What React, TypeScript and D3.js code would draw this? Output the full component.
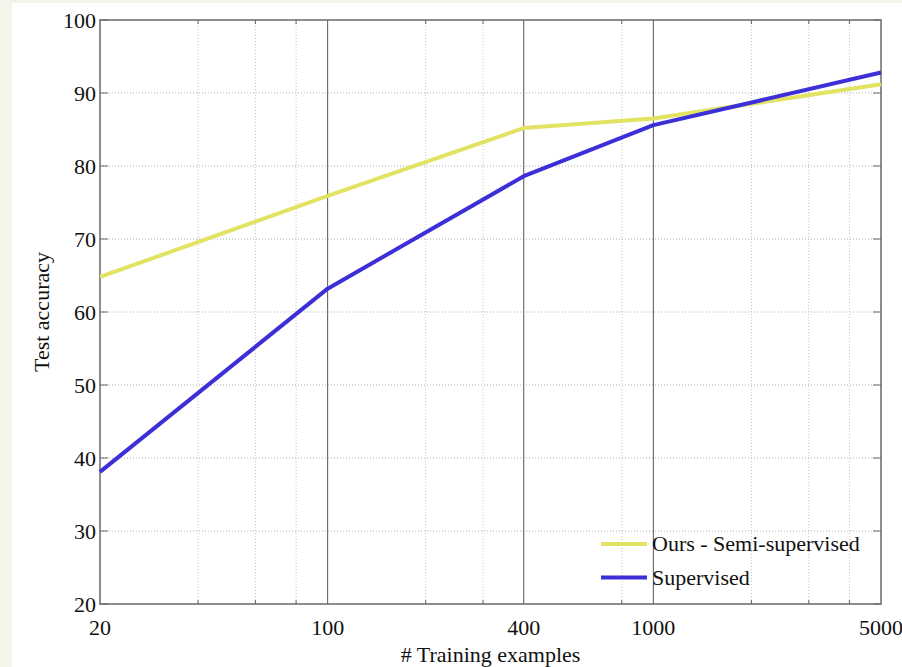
import React from "react";
import * as d3 from "d3";

const trainingSizes = [20, 100, 400, 1000, 5000];
const oursSemi = [64.8, 75.9, 85.2, 86.5, 91.2];
const supervised = [38.1, 63.2, 78.6, 85.6, 92.8];
const xTickValues = [20, 100, 400, 1000, 5000];
const xMajorGrid = [100, 400, 1000];
const xMinorGrid = [40, 60, 80, 200, 300, 800, 2000, 3000, 4000];
const yTickValues = [20, 30, 40, 50, 60, 70, 80, 90, 100];
const seriesNames = ["Ours - Semi-supervised", "Supervised"];
const seriesColors = ["#e2e263", "#3d2fd8"];

const W = 902;
const H = 667;
const M = { left: 100, right: 881, top: 20, bottom: 604 };
const FONT = "Liberation Serif";

export default function App() {
  const x = d3.scaleLog().domain([20, 5000]).range([M.left, M.right]);
  const y = d3.scaleLinear().domain([20, 100]).range([M.bottom, M.top]);
  const series = [oursSemi, supervised];
  const line = d3
    .line<number>()
    .x((_, i) => x(trainingSizes[i]))
    .y((d) => y(d));
  const txt = { fontFamily: FONT, fontSize: "22px", fill: "#111" } as React.CSSProperties;

  return (
    <svg
      width={W}
      height={H}
      style={{ position: "absolute", left: 0, top: 0, display: "block", fontFamily: FONT }}
    >
      <rect x={0} y={0} width={W} height={H} fill="#f3f5ea" />
      <rect x={12} y={3} width={W - 12} height={H - 3} fill="#ffffff" />

      {yTickValues.slice(1, -1).map((v) => (
        <line
          key={"hg" + v}
          x1={M.left}
          x2={M.right}
          y1={y(v)}
          y2={y(v)}
          stroke="#9a9a9a"
          strokeWidth={0.8}
          strokeDasharray="1,2"
        />
      ))}
      {xMinorGrid.map((v) => (
        <g key={"mg" + v}>
          <line
            x1={x(v)}
            x2={x(v)}
            y1={M.top}
            y2={M.bottom}
            stroke="#b5b5b5"
            strokeWidth={0.8}
            strokeDasharray="1,2"
          />
          <line x1={x(v)} x2={x(v)} y1={M.bottom} y2={M.bottom - 4} stroke="#666" strokeWidth={1} />
          <line x1={x(v)} x2={x(v)} y1={M.top} y2={M.top + 4} stroke="#666" strokeWidth={1} />
        </g>
      ))}
      {xMajorGrid.map((v) => (
        <line
          key={"vg" + v}
          x1={x(v)}
          x2={x(v)}
          y1={M.top}
          y2={M.bottom}
          stroke="#555"
          strokeWidth={1}
        />
      ))}
      {yTickValues.map((v) => (
        <g key={"yt" + v}>
          <line x1={M.left} x2={M.left + 8} y1={y(v)} y2={y(v)} stroke="#666" strokeWidth={1} />
          <line x1={M.right} x2={M.right - 8} y1={y(v)} y2={y(v)} stroke="#666" strokeWidth={1} />
          <text x={M.left - 4} y={y(v)} dy="0.35em" textAnchor="end" style={txt}>
            {v}
          </text>
        </g>
      ))}
      {xTickValues.map((v) => (
        <text key={"xt" + v} x={x(v)} y={M.bottom + 31} textAnchor="middle" style={txt}>
          {v}
        </text>
      ))}
      <rect
        x={M.left}
        y={M.top}
        width={M.right - M.left}
        height={M.bottom - M.top}
        fill="none"
        stroke="#6a6a6a"
        strokeWidth={1.5}
      />
      {series.map((s, i) => (
        <path
          key={"s" + i}
          d={line(s) || ""}
          fill="none"
          stroke={seriesColors[i]}
          strokeWidth={4}
          strokeLinejoin="round"
        />
      ))}
      {seriesNames.map((name, i) => (
        <g key={"lg" + i} transform={`translate(0, ${544 + i * 33.5})`}>
          <line x1={601} x2={647} y1={0} y2={0} stroke={seriesColors[i]} strokeWidth={4} />
          <text x={652} y={0} dy="0.32em" style={txt}>
            {name}
          </text>
        </g>
      ))}
      <text x={(M.left + M.right) / 2} y={662} textAnchor="middle" style={txt}>
        # Training examples
      </text>
      <text
        transform={`translate(49, ${(M.top + M.bottom) / 2}) rotate(-90)`}
        textAnchor="middle"
        style={txt}
      >
        Test accuracy
      </text>
    </svg>
  );
}
